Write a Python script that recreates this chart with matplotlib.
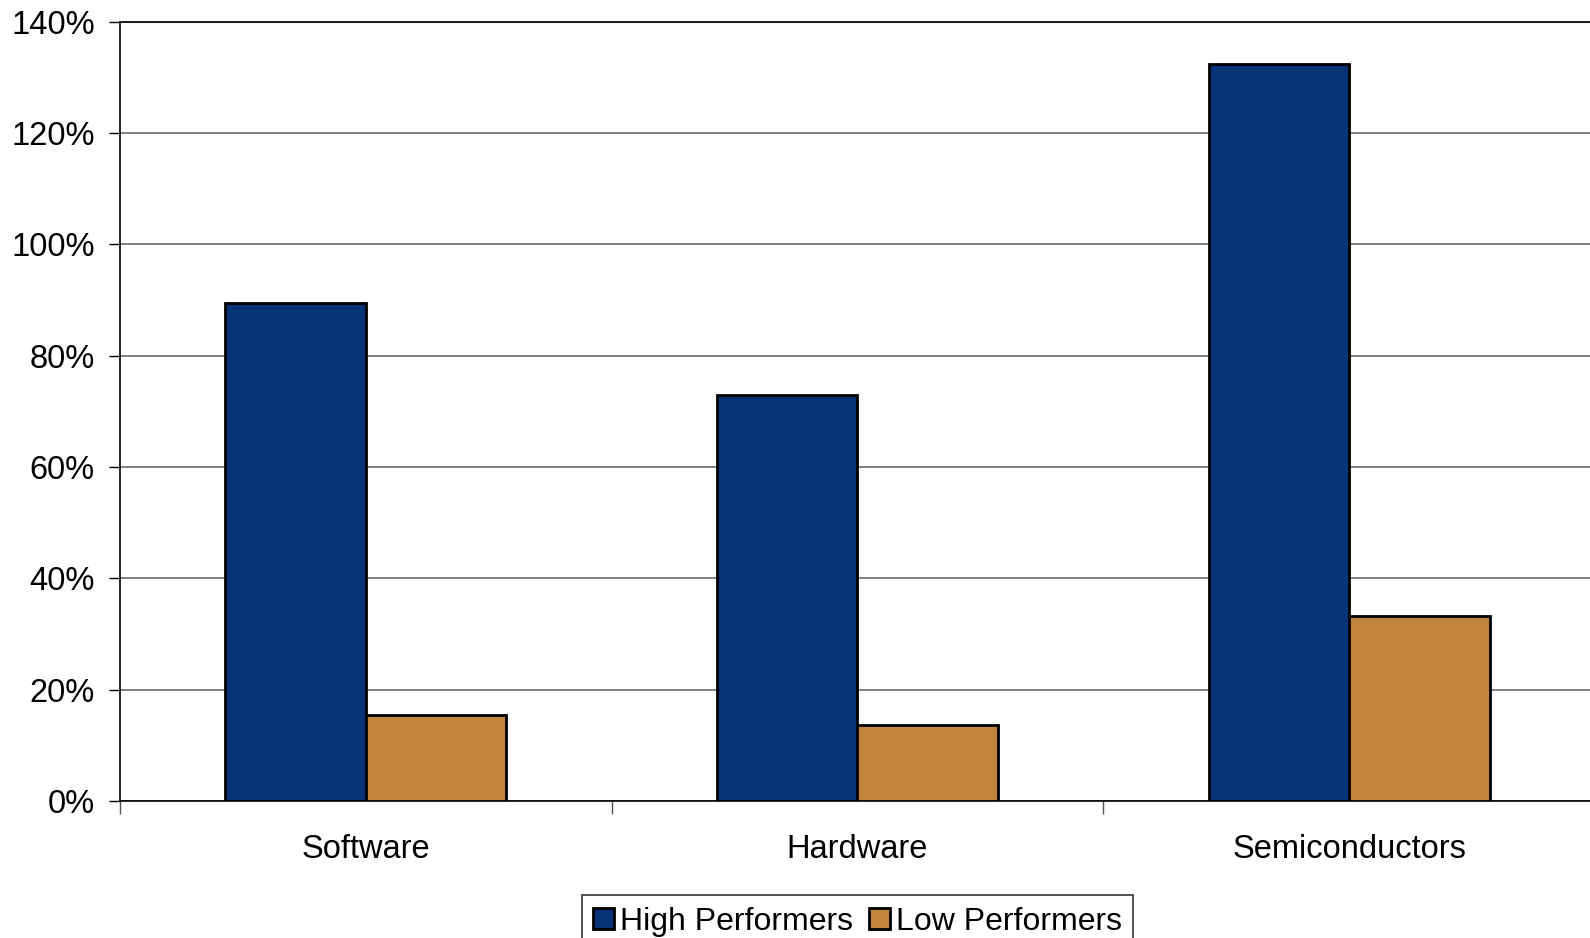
import numpy as np
import matplotlib
matplotlib.use("Agg")
import matplotlib.pyplot as plt
from matplotlib.ticker import FuncFormatter, FixedLocator

categories = ["Software", "Hardware", "Semiconductors"]
high_performers = [89.4, 73.0, 132.4]
low_performers = [15.5, 13.7, 33.3]
series_names = ["High Performers", "Low Performers"]
colors = ["#053479", "#C1843D"]

plt.rcParams['font.family'] = ['Liberation Sans', 'DejaVu Sans']

fig = plt.figure(figsize=(15.9, 9.38), dpi=100)
ax = fig.add_axes([0.0753, 0.146, 0.928, 0.831])

x = np.arange(len(categories))
w = 1 / 3.5  # gap width 150%
ax.bar(x - w / 2, high_performers, width=w, color=colors[0], edgecolor="black",
       linewidth=2, label=series_names[0], zorder=3)
ax.bar(x + w / 2, low_performers, width=w, color=colors[1], edgecolor="black",
       linewidth=2, label=series_names[1], zorder=3)

ax.set_xlim(-0.5, len(categories) - 0.5)
ax.set_ylim(0, 140)
ax.set_yticks(np.arange(0, 141, 20))
ax.yaxis.set_major_formatter(FuncFormatter(lambda v, p: f"{v:.0f}%"))
ax.grid(axis="y", color="#6b6b6b", linewidth=1.2, zorder=0)

ax.set_xticks(x)
ax.set_xticklabels(categories)
ax.xaxis.set_minor_locator(FixedLocator(np.arange(-0.5, len(categories), 1.0)))
ax.tick_params(axis="x", which="major", length=0, pad=24, labelsize=23.5)
ax.tick_params(axis="x", which="minor", length=9, width=1, color="#555555")
ax.tick_params(axis="y", length=8, width=1, labelsize=23.5, pad=10)

for side in ["left", "bottom", "top"]:
    ax.spines[side].set_color("black")
    ax.spines[side].set_linewidth(1.2)
ax.spines["right"].set_visible(False)

leg = ax.legend(loc="upper center", bbox_to_anchor=(0.5, -0.121), ncol=2,
                fontsize=23, frameon=True, fancybox=False, edgecolor="black",
                handlelength=0.65, handleheight=0.65, handletextpad=0.2,
                columnspacing=0.5, borderpad=0.35, borderaxespad=0)
leg.get_frame().set_linewidth(1.2)

fig.savefig("out.png", dpi=100)
